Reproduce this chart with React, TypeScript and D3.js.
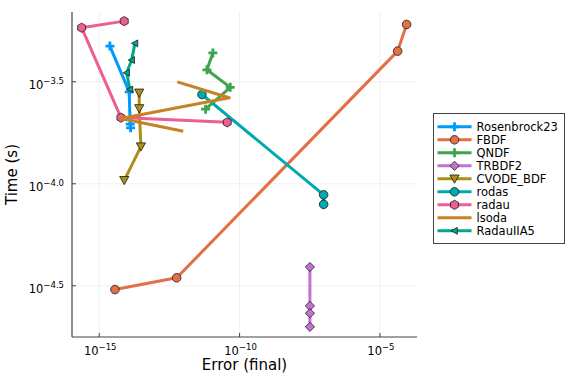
import React from "react";
import * as d3 from "d3";

// Work-precision data: final error (x) vs run time in seconds (y)
const rosenbrockErr = [2.4e-15, 1.17e-14, 1.26e-14, 1.31e-14];
const rosenbrockTime = [4.73e-4, 2.82e-4, 1.96e-4, 1.88e-4];

const fbdfErr = [3.63e-15, 5.75e-13, 4.27e-5, 8.93e-5];
const fbdfTime = [3.03e-5, 3.46e-5, 4.47e-4, 6.04e-4];

const qndfErr = [1.12e-11, 6.87e-12, 4.65e-11, 6.16e-12];
const qndfTime = [4.38e-4, 3.62e-4, 2.97e-4, 2.32e-4];

const trbdf2Err = [3.2e-8, 3.2e-8, 3.2e-8, 3.2e-8];
const trbdf2Time = [3.91e-5, 2.52e-5, 2.32e-5, 1.99e-5];

const cvodeErr = [2.66e-14, 2.66e-14, 3.06e-14, 7.78e-15];
const cvodeTime = [2.79e-4, 2.34e-4, 1.52e-4, 1.04e-4];

const rodasErr = [4.56e-12, 9.86e-8, 9.86e-8];
const rodasTime = [2.74e-4, 8.83e-5, 7.93e-5];

const radauErr = [7.78e-15, 2.36e-16, 5.93e-15, 3.63e-11];
const radauTime = [6.27e-4, 5.82e-4, 2.11e-4, 2.0e-4];

const lsodaErr = [6.01e-13, 4.28e-11, 5.93e-15, 9.84e-13];
const lsodaTime = [3.16e-4, 2.64e-4, 2.09e-4, 1.81e-4];

const radauIIA5Err = [1.87e-14, 1.43e-14, 9.46e-15, 1.24e-14];
const radauIIA5Time = [4.88e-4, 4.04e-4, 3.5e-4, 2.9e-4];

const xTicks = [1e-15, 1e-10, 1e-5];
const xTickExp = ["−15", "−10", "−5"];
const yTicks = [Math.pow(10, -4.5), 1e-4, Math.pow(10, -3.5)];
const yTickExp = ["−4.5", "−4.0", "−3.5"];

type Series = { name: string; color: string; marker: string; xs: number[]; ys: number[] };

const series: Series[] = [
  { name: "Rosenbrock23", color: "#009AFA", marker: "plus", xs: rosenbrockErr, ys: rosenbrockTime },
  { name: "FBDF", color: "#E36F47", marker: "circle", xs: fbdfErr, ys: fbdfTime },
  { name: "QNDF", color: "#3EA44E", marker: "plus", xs: qndfErr, ys: qndfTime },
  { name: "TRBDF2", color: "#C371D2", marker: "diamond", xs: trbdf2Err, ys: trbdf2Time },
  { name: "CVODE_BDF", color: "#AC8E18", marker: "dtriangle", xs: cvodeErr, ys: cvodeTime },
  { name: "rodas", color: "#00A9AD", marker: "circle", xs: rodasErr, ys: rodasTime },
  { name: "radau", color: "#ED5E93", marker: "hexagon", xs: radauErr, ys: radauTime },
  { name: "lsoda", color: "#C68225", marker: "none", xs: lsodaErr, ys: lsodaTime },
  { name: "RadauIIA5", color: "#00A98D", marker: "ltriangle", xs: radauIIA5Err, ys: radauIIA5Time },
];

const FONT = "DejaVu Sans, sans-serif";

function Marker({ type, color, x, y }: { type: string; color: string; x: number; y: number }) {
  const t = `translate(${x},${y})`;
  const stroke = "#1a1a1a";
  if (type === "circle") {
    return <circle cx={x} cy={y} r={4.3} fill={color} stroke={stroke} strokeWidth={0.8} />;
  }
  if (type === "plus") {
    const a = 4.5, b = 1.4;
    const d = `M${-b},${-a}H${b}V${-b}H${a}V${b}H${b}V${a}H${-b}V${b}H${-a}V${-b}H${-b}Z`;
    return <path d={d} transform={t} fill={color} />;
  }
  if (type === "diamond") {
    const r = 4.6;
    return <path d={`M0,${-r}L${r},0L0,${r}L${-r},0Z`} transform={t} fill={color} stroke={stroke} strokeWidth={0.8} />;
  }
  if (type === "dtriangle") {
    return <path d="M-4.6,-3.8L4.6,-3.8L0,4.4Z" transform={t} fill={color} stroke={stroke} strokeWidth={0.8} />;
  }
  if (type === "ltriangle") {
    return <path d="M-3.4,0L2.8,-3.4L2.8,3.4Z" transform={t} fill={color} stroke={stroke} strokeWidth={0.8} />;
  }
  if (type === "hexagon") {
    const r = 4.6;
    const pts = d3.range(6).map((i) => {
      const a = (Math.PI / 3) * i + Math.PI / 6;
      return [r * Math.cos(a), r * Math.sin(a)] as [number, number];
    });
    return <path d={"M" + pts.map((p) => p.join(",")).join("L") + "Z"} transform={t} fill={color} stroke={stroke} strokeWidth={0.8} />;
  }
  return null;
}

export default function App() {
  const width = 576;
  const height = 384;
  const left = 72, right = 417, top = 12, bottom = 337;

  const x = d3.scaleLog().domain([Math.pow(10, -15.97), Math.pow(10, -3.68)]).range([left, right]);
  const y = d3.scaleLog().domain([Math.pow(10, -4.751), Math.pow(10, -3.158)]).range([bottom, top]);

  const line = d3
    .line<[number, number]>()
    .x((d) => x(d[0]))
    .y((d) => y(d[1]));

  const legendX = 433.5, legendY = 113.5, legendW = 131, legendH = 130;
  const rowH = 13;

  return (
    <svg width={width} height={height} style={{ position: "absolute", left: 0, top: 0 }} fontFamily={FONT}>
      <rect width={width} height={height} fill="white" />
      {/* grid */}
      {xTicks.map((t, i) => (
        <line key={"gx" + i} x1={x(t)} x2={x(t)} y1={top} y2={bottom} stroke="#000" strokeOpacity={0.1} strokeWidth={0.6} />
      ))}
      {yTicks.map((t, i) => (
        <line key={"gy" + i} x1={left} x2={right} y1={y(t)} y2={y(t)} stroke="#000" strokeOpacity={0.1} strokeWidth={0.6} />
      ))}
      {/* axes */}
      <line x1={left} x2={left} y1={top} y2={bottom} stroke="#444" strokeWidth={1.2} />
      <line x1={left} x2={right} y1={bottom} y2={bottom} stroke="#444" strokeWidth={1.2} />
      {xTicks.map((t, i) => (
        <g key={"xt" + i}>
          <line x1={x(t)} x2={x(t)} y1={bottom} y2={bottom - 4} stroke="#444" strokeWidth={1} />
          <text x={x(t) + 1} y={354.5} textAnchor="middle" fontSize={11.5}>
            10<tspan fontSize={8.5} dy={-5}>{xTickExp[i]}</tspan>
          </text>
        </g>
      ))}
      {yTicks.map((t, i) => (
        <g key={"yt" + i}>
          <line x1={left} x2={left + 4} y1={y(t)} y2={y(t)} stroke="#444" strokeWidth={1} />
          <text x={64} y={y(t) + 7.5} textAnchor="end" fontSize={11.5}>
            10<tspan fontSize={8.5} dy={-5}>{yTickExp[i]}</tspan>
          </text>
        </g>
      ))}
      <text x={(left + right) / 2} y={370} textAnchor="middle" fontSize={15}>Error (final)</text>
      <text transform={`translate(17,${(top + bottom) / 2}) rotate(-90)`} textAnchor="middle" fontSize={15}>Time (s)</text>
      {/* series */}
      <g>
        {series.map((s) => {
          const pts = s.xs.map((v, i) => [v, s.ys[i]] as [number, number]);
          return (
            <g key={s.name}>
              <path d={line(pts) || ""} fill="none" stroke={s.color} strokeWidth={3} strokeLinejoin="round" />
              {pts.map((p, i) => (
                <Marker key={i} type={s.marker} color={s.color} x={x(p[0])} y={y(p[1])} />
              ))}
            </g>
          );
        })}
      </g>
      {/* legend */}
      <rect x={legendX} y={legendY} width={legendW} height={legendH} fill="white" stroke="#444" strokeWidth={1} />
      {series.map((s, i) => {
        const cy = legendY + 13.3 + i * rowH;
        return (
          <g key={"lg" + s.name}>
            <line x1={437.5} x2={471.5} y1={cy} y2={cy} stroke={s.color} strokeWidth={3} />
            <Marker type={s.marker} color={s.color} x={454.5} y={cy} />
            <text x={476.5} y={cy + 4} fontSize={11.5}>{s.name}</text>
          </g>
        );
      })}
    </svg>
  );
}
